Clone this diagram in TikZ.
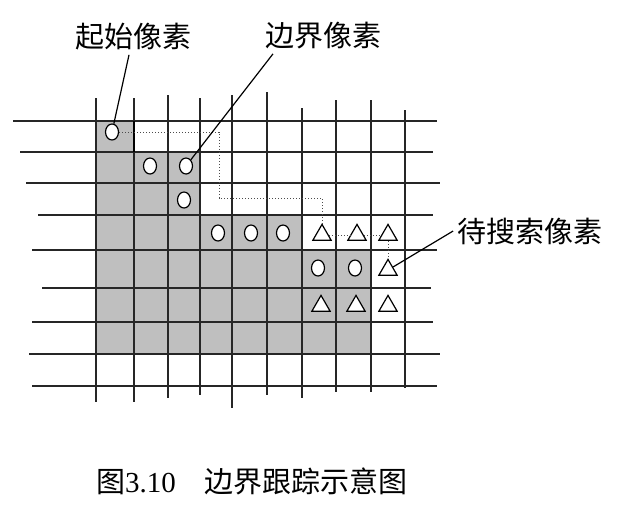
\documentclass[tikz,border=0pt]{standalone}
\usepackage{fontspec}
\setmainfont{Liberation Serif}
\newfontfamily\cjk{Noto Sans CJK SC}
\usetikzlibrary{shapes.geometric, calc}

\begin{document}
\begin{tikzpicture}[
  x=0.5pt, y=-0.5pt,
  gridline/.style={black!85, line width=0.75pt},
  cellfill/.style={fill=gray!50},
  bpix/.style={draw, ellipse, fill=white, line width=0.6pt,
               minimum width=6.5pt, minimum height=8pt, inner sep=0pt},
  spix/.style={draw, regular polygon, regular polygon sides=3, fill=white,
               line width=0.6pt, minimum size=10.6pt, inner sep=0pt},
  trace/.style={densely dotted, line width=0.5pt, black!70},
  leader/.style={line width=0.6pt},
  tag/.style={font=\fontsize{14.5pt}{17pt}\selectfont\cjk, inner sep=2pt},
]
  \useasboundingbox (0,0) rectangle (636,525);

  % object region
  \fill[cellfill] (96,121) -- (134,121) -- (134,152) -- (200,152) -- (200,215)
    -- (302,215) -- (302,250) -- (371,250) -- (371,354) -- (96,354) -- cycle;

  % pixel grid
  \foreach \y/\a/\b in {121/13/437, 152/20/433, 183/26/440, 215/38/433,
                        250/32/437, 288/42/431, 322/32/433, 354/29/440, 386/32/437}
    \draw[gridline] (\a,\y) -- (\b,\y);
  \foreach \x/\a/\b in {96/98/402, 134/98/402, 168/95/398, 200/98/395, 232/95/408,
                        267/92/395, 302/108/398, 336/100/392, 371/100/392, 405/110/388}
    \draw[gridline] (\x,\a) -- (\x,\b);
  \draw[line width=1.2pt] (134,121) -- (134,152);

  % boundary pixels
  \node[bpix] (s)   at (112,132) {};
  \node[bpix] (b22) at (150,166) {};
  \node[bpix] (b23) at (186,166) {};
  \node[bpix] (b33) at (184,200) {};
  \node[bpix] (b44) at (218,233) {};
  \node[bpix] (b45) at (251,233) {};
  \node[bpix] (b46) at (283,233) {};
  \node[bpix] (b57) at (318,268) {};
  \node[bpix] (b58) at (355,268) {};

  % pixels still to search
  \node[spix] (t47) at (322,235) {};
  \node[spix] (t48) at (357,235) {};
  \node[spix] (t49) at (388,235) {};
  \node[spix] (t59) at (388,270) {};
  \node[spix] (t67) at (321,306) {};
  \node[spix] (t68) at (356,306) {};
  \node[spix] (t69) at (388,306) {};

  % tracing path
  \coordinate (bend) at (219,198);
  \draw[trace] (s.east) -| (bend) -| (t47.north);
  \draw[trace] (t47) -- (t48);
  \draw[trace] (t48) -- (t49);
  \draw[trace] (t49) -- (t59);

  % labels
  \node[tag] (lstart) at (133,37) {起始像素};
  \node[tag] (lbound) at (323,36) {边界像素};
  \node[tag] (lsearch) at (530,231) {待搜索像素};
  \draw[leader] ([xshift=-2pt]lstart.south) -- (s);
  \draw[leader] ([xshift=-25pt]lbound.south) -- (b23);
  \draw[leader] (lsearch.west) -- (t59);

  \node[font=\fontsize{14.5pt}{17pt}\selectfont, inner sep=0pt] (cap) at (252,481)
    {{\cjk 图}3.10\quad{\cjk 边界跟踪示意图}};
\end{tikzpicture}
\end{document}
